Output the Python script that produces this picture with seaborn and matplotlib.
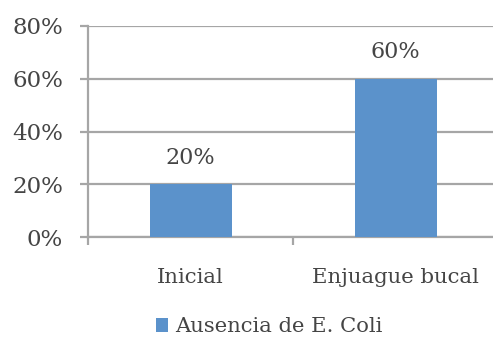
import matplotlib
matplotlib.use("Agg")
import matplotlib.pyplot as plt
from matplotlib.ticker import FuncFormatter, FixedLocator
import seaborn as sns
import pandas as pd

# data
categorias = ["Inicial", "Enjuague bucal"]
valores = [20, 60]
serie = "Ausencia de E. Coli"
y_ticks = [0, 20, 40, 60, 80]

df = pd.DataFrame({"etapa": categorias, "valor": valores, "serie": [serie] * len(valores)})

sns.set_style("white")
plt.rcParams["font.family"] = ["DejaVu Serif"]
text_color = "#454545"
grid_color = "#a6a6a6"
bar_color = "#5b92cb"

fig = plt.figure(figsize=(4.93, 3.41), dpi=100)
ax = fig.add_axes([88 / 493, 1 - 237 / 341, 410 / 493, (237 - 26) / 341])

sns.barplot(
    data=df,
    x="etapa",
    y="valor",
    hue="serie",
    palette=[bar_color],
    width=0.4,
    saturation=1,
    linewidth=0,
    ax=ax,
    zorder=3,
)

ax.set_xlim(-0.5, 1.5)
ax.set_ylim(0, 80)
ax.set_yticks(y_ticks)
ax.yaxis.set_major_formatter(FuncFormatter(lambda v, p: f"{v:.0f}%"))
ax.grid(axis="y", color=grid_color, linewidth=1.6, zorder=0)
ax.set_xlabel("")
ax.set_ylabel("")

# value labels above bars
for container in ax.containers:
    ax.bar_label(container, labels=[f"{v}%" for v in valores], padding=11,
                 fontsize=16, color=text_color)

# spines: only left and bottom in gray
for side in ["top", "right"]:
    ax.spines[side].set_visible(False)
for side in ["left", "bottom"]:
    ax.spines[side].set_color(grid_color)
    ax.spines[side].set_linewidth(1.6)

ax.tick_params(axis="y", length=6, width=1.6, color=grid_color, labelsize=16.5,
               labelcolor=text_color, pad=12, left=True)
ax.tick_params(axis="x", which="major", length=0, labelsize=15.3,
               labelcolor=text_color, pad=22)
ax.xaxis.set_minor_locator(FixedLocator([-0.5, 0.5, 1.5]))
ax.tick_params(axis="x", which="minor", length=6, width=1.6, color=grid_color, bottom=True)

ax.legend(
    loc="center",
    bbox_to_anchor=(269 / 493, 1 - 327 / 341),
    bbox_transform=fig.transFigure,
    frameon=False,
    fontsize=15.2,
    labelcolor=text_color,
    handlelength=0.6,
    handleheight=0.6,
    handletextpad=0.3,
)

fig.savefig("out.png", dpi=100)
